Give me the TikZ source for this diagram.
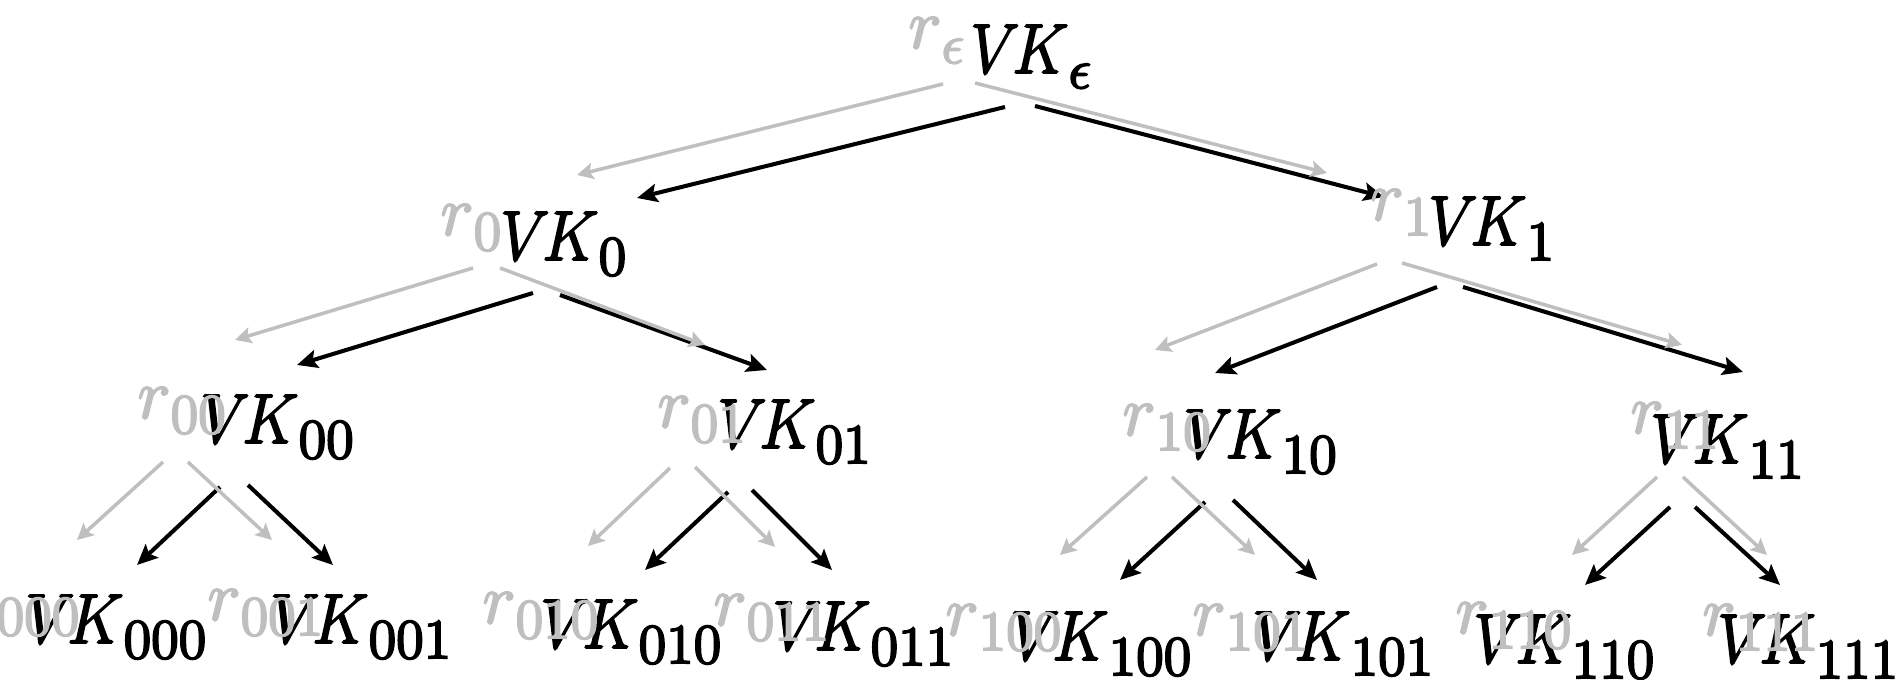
\documentclass[tikz,border=0pt]{standalone}
\usepackage{fix-cm}
\usetikzlibrary{arrows.meta}
\definecolor{lg}{RGB}{191,191,191}
\newcommand{\thk}{\special{pdf:literal direct 2 Tr 0.55 w}}
\newcommand{\thn}{\special{pdf:literal direct 0 Tr}}
\newcommand{\subl}[1]{\raisebox{-4.3pt}{\fontsize{16}{18}\selectfont$#1$}}
\newcommand{\vkl}[1]{\thk\scalebox{0.88}[1]{$V\mkern-2mu K$}\subl{#1}\thn}
\newcommand{\rl}[1]{\thk$r$\subl{#1}\thn}
\tikzset{
  vk/.style={font=\fontsize{20}{24}\selectfont, inner sep=0pt, anchor=base west, text=black},
  rr/.style={vk, text=lg},
  blk/.style={draw=black, line width=1.15pt, -{Stealth[length=5.8pt,width=5.2pt,inset=1.1pt]}},
  gry/.style={draw=lg, line width=1pt, -{Stealth[length=4.6pt,width=4.6pt,inset=0.9pt]}}
}
\begin{document}
\begin{tikzpicture}[x=0.01cm, y=-0.01cm]
\useasboundingbox (0,0) rectangle (1903,680);
\clip (0,0) rectangle (1903,680);
% black labels
\node[vk] (ke)   at (970,73)   {\vkl{\epsilon}};
\node[vk] (k0)   at (500,260)  {\vkl{0}};
\node[vk] (k1)   at (1428,245) {\vkl{1}};
\node[vk] (k00)  at (200,443)  {\vkl{00}};
\node[vk] (k01)  at (717,448)  {\vkl{01}};
\node[vk] (k10)  at (1183,458) {\vkl{10}};
\node[vk] (k11)  at (1650,463) {\vkl{11}};
\node[vk] (k000) at (25,643)   {\vkl{000}};
\node[vk] (k001) at (270,643)  {\vkl{001}};
\node[vk] (k010) at (540,648)  {\vkl{010}};
\node[vk] (k011) at (772,650)  {\vkl{011}};
\node[vk] (k100) at (1010,660) {\vkl{100}};
\node[vk] (k101) at (1252,660) {\vkl{101}};
\node[vk] (k110) at (1473,663) {\vkl{110}};
\node[vk] (k111) at (1717,663) {\vkl{111}};
% black arrows
\draw[blk] ([shift={(35,34)}]ke.base west) -- ([shift={(137,-62)}]k0.base west);
\draw[blk] ([shift={(65,33)}]ke.base west) -- ([shift={(-44,-48)}]k1.base west);
\draw[blk] ([shift={(33,33)}]k0.base west) -- ([shift={(97,-78)}]k00.base west);
\draw[blk] ([shift={(60,35)}]k0.base west) -- ([shift={(50,-78)}]k01.base west);
\draw[blk] ([shift={(9,42)}]k1.base west) -- ([shift={(32,-85)}]k10.base west);
\draw[blk] ([shift={(35,42)}]k1.base west) -- ([shift={(93,-91)}]k11.base west);
\draw[blk] ([shift={(20,44)}]k00.base west) -- ([shift={(112,-78)}]k000.base west);
\draw[blk] ([shift={(48,42)}]k00.base west) -- ([shift={(63,-78)}]k001.base west);
\draw[blk] ([shift={(11,44)}]k01.base west) -- ([shift={(105,-78)}]k010.base west);
\draw[blk] ([shift={(35,42)}]k01.base west) -- ([shift={(60,-80)}]k011.base west);
\draw[blk] ([shift={(22,44)}]k10.base west) -- ([shift={(110,-80)}]k100.base west);
\draw[blk] ([shift={(50,42)}]k10.base west) -- ([shift={(65,-80)}]k101.base west);
\draw[blk] ([shift={(20,44)}]k11.base west) -- ([shift={(112,-78)}]k110.base west);
\draw[blk] ([shift={(45,44)}]k11.base west) -- ([shift={(63,-78)}]k111.base west);
% gray arrows
\draw[gry] ([shift={(-27,11)}]ke.base west) -- ([shift={(77,-85)}]k0.base west);
\draw[gry] ([shift={(5,10)}]ke.base west) -- ([shift={(-101,-72)}]k1.base west);
\draw[gry] ([shift={(-27,8)}]k0.base west) -- ([shift={(35,-103)}]k00.base west);
\draw[gry] ([shift={(0,8)}]k0.base west) -- ([shift={(-12,-103)}]k01.base west);
\draw[gry] ([shift={(-51,19)}]k1.base west) -- ([shift={(-28,-108)}]k10.base west);
\draw[gry] ([shift={(-26,18)}]k1.base west) -- ([shift={(32,-118)}]k11.base west);
\draw[gry] ([shift={(-37,19)}]k00.base west) -- ([shift={(52,-103)}]k000.base west);
\draw[gry] ([shift={(-12,19)}]k00.base west) -- ([shift={(2,-103)}]k001.base west);
\draw[gry] ([shift={(-47,20)}]k01.base west) -- ([shift={(48,-102)}]k010.base west);
\draw[gry] ([shift={(-22,19)}]k01.base west) -- ([shift={(3,-103)}]k011.base west);
\draw[gry] ([shift={(-36,19)}]k10.base west) -- ([shift={(50,-105)}]k100.base west);
\draw[gry] ([shift={(-11,19)}]k10.base west) -- ([shift={(3,-105)}]k101.base west);
\draw[gry] ([shift={(7,14)}]k11.base west) -- ([shift={(99,-108)}]k110.base west);
\draw[gry] ([shift={(33,14)}]k11.base west) -- ([shift={(50,-108)}]k111.base west);
% gray labels
\node[rr] (re)   at (908,48)   {\rl{\epsilon}};
\node[rr] (r0)   at (440,235)  {\rl{0}};
\node[rr] (r1)   at (1370,220) {\rl{1}};
\node[rr] (r00)  at (137,418)  {\rl{00}};
\node[rr] (r01)  at (657,427)  {\rl{01}};
\node[rr] (r10)  at (1122,435) {\rl{10}};
\node[rr] (r11)  at (1630,433) {\rl{11}};
\node[rr] (r000) at (-37,620)  {\rl{000}};
\node[rr] (r001) at (207,620)  {\rl{001}};
\node[rr] (r010) at (482,623)  {\rl{010}};
\node[rr] (r011) at (713,625)  {\rl{011}};
\node[rr] (r100) at (945,635)  {\rl{100}};
\node[rr] (r101) at (1192,635) {\rl{101}};
\node[rr] (r110) at (1455,633) {\rl{110}};
\node[rr] (r111) at (1702,635) {\rl{111}};
\end{tikzpicture}
\end{document}
